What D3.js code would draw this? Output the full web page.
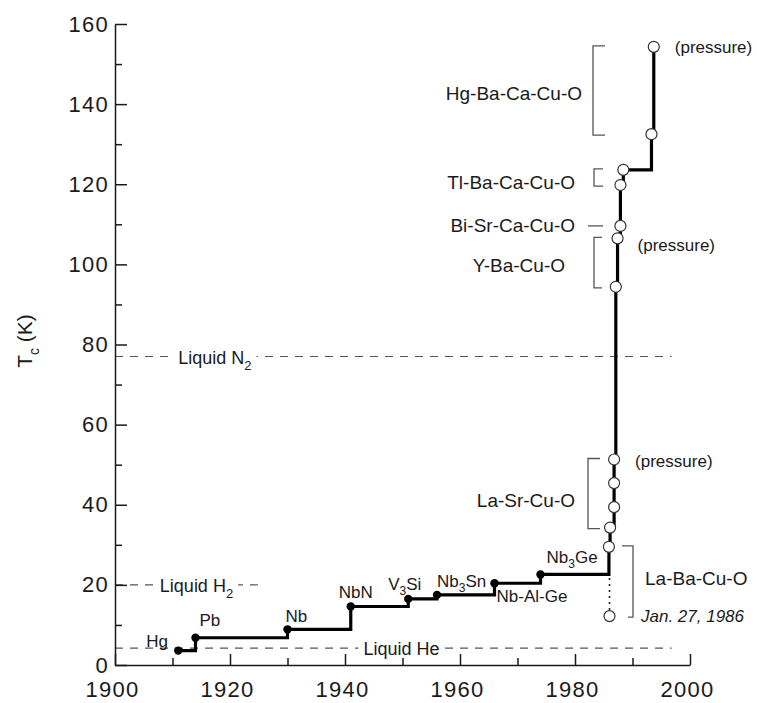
<!DOCTYPE html>
<html><head><meta charset="utf-8">
<script src="https://cdn.jsdelivr.net/npm/d3@7"></script>
<style>
body{margin:0;background:#fff}
text{font-family:"Liberation Sans",Arial,Helvetica,sans-serif;fill:#1a1a1a}
</style>
</head><body>
<svg id="c" width="757" height="703"></svg>
<script>
// ---------- data ----------
const xMajorTicks = [1900, 1920, 1940, 1960, 1980, 2000];
const xMinorTicks = [1910, 1930, 1950, 1970, 1990];
const yMajorTicks = [0, 20, 40, 60, 80, 100, 120, 140, 160];
const yMinorTicks = [10, 30, 50, 70, 90, 110, 130, 150];

// conventional superconductors (filled dots)
const convNames = ["Hg", "Pb", "Nb", "NbN", "V3Si", "Nb3Sn", "Nb-Al-Ge", "Nb3Ge"];
const convYears = [1911, 1914, 1930, 1941, 1951, 1956, 1966, 1974];
const convTc    = [3.6, 6.8, 8.9, 14.6, 16.5, 17.5, 20.4, 22.6];

// cuprates (open circles)
const cupFamily = ["La-Ba-Cu-O", "La-Ba-Cu-O",
  "La-Sr-Cu-O", "La-Sr-Cu-O", "La-Sr-Cu-O", "La-Sr-Cu-O",
  "Y-Ba-Cu-O", "Y-Ba-Cu-O", "Bi-Sr-Ca-Cu-O",
  "Tl-Ba-Ca-Cu-O", "Tl-Ba-Ca-Cu-O", "Hg-Ba-Ca-Cu-O", "Hg-Ba-Ca-Cu-O"];
const cupYears = [1986.0, 1985.9, 1986.1, 1986.8, 1986.8, 1986.8, 1987.1, 1987.4, 1987.9, 1987.9, 1988.4, 1993.3, 1993.7];
const cupTc    = [12.2, 29.5, 34.3, 39.4, 45.4, 51.3, 94.4, 106.5, 109.6, 119.8, 123.6, 132.5, 154.3];

// family labels
const familyNames   = ["Hg-Ba-Ca-Cu-O", "Tl-Ba-Ca-Cu-O", "Bi-Sr-Ca-Cu-O", "Y-Ba-Cu-O", "La-Sr-Cu-O", "La-Ba-Cu-O"];
const familyLabelTc = [142.7, 120.6, 109.8, 99.8, 41.2, 21.7];
const pressureTc    = [154.3, 106.5, 51.3];
const discoveryNote = "Jan. 27, 1986";

// reference liquids
const refNames  = ["Liquid N2", "Liquid H2", "Liquid He"];
const refTc     = [77, 20, 4.2];

// ---------- layout ----------
const svg = d3.select("#c");
const x = d3.scaleLinear().domain([1900, 2000]).range([115, 690]);
const y = d3.scaleLinear().domain([0, 160]).range([665, 24]);
const ink = "#1a1a1a";

// helper: text where digits become subscripts
function richText(sel, str, subSize, subDy) {
  const parts = str.split(/(\d)/).filter(s => s.length);
  let lowered = false;
  parts.forEach(p => {
    if (/^\d$/.test(p)) {
      sel.append("tspan").attr("font-size", subSize).attr("dy", subDy).text(p);
      lowered = true;
    } else {
      const ts = sel.append("tspan").text(p);
      if (lowered) { ts.attr("dy", -subDy); lowered = false; }
    }
  });
}

// ---------- reference dashed lines ----------
const refLayout = [
  {end: 1996.8, labelX: 1911.0},
  {end: 1926.0, labelX: 1907.8},
  {end: 1996.8, labelX: 1943.2}
];
const gRef = svg.append("g");
refNames.forEach((nm, i) => {
  const L = refLayout[i];
  gRef.append("line")
    .attr("x1", x(1900)).attr("x2", x(L.end))
    .attr("y1", y(refTc[i])).attr("y2", y(refTc[i]))
    .attr("stroke", "#555").attr("stroke-width", 1.1)
    .attr("stroke-dasharray", "8,7");
});
refNames.forEach((nm, i) => {
  const L = refLayout[i];
  const t = gRef.append("text")
    .attr("x", x(L.labelX)).attr("y", y(refTc[i]) + 7)
    .attr("font-size", 18);
  richText(t, nm, 13, 6);
  const bb = t.node().getBBox();
  gRef.insert("rect", () => t.node())
    .attr("x", bb.x - 5).attr("y", y(refTc[i]) - 3)
    .attr("width", bb.width + 10).attr("height", 6)
    .attr("fill", "#fff");
});

// ---------- axes ----------
const axStroke = 1.5;
const gy = svg.append("g").attr("transform", `translate(${x(1900)},0)`)
  .call(d3.axisLeft(y).tickValues(yMajorTicks).tickSizeInner(-12).tickSizeOuter(0).tickPadding(6));
const gyMinor = svg.append("g").attr("transform", `translate(${x(1900)},0)`)
  .call(d3.axisLeft(y).tickValues(yMinorTicks).tickSize(-7).tickFormat(""));
gyMinor.select(".domain").remove();

const gx = svg.append("g").attr("transform", `translate(0,${y(0)})`)
  .call(d3.axisBottom(x).tickValues(xMajorTicks).tickSizeInner(-11).tickSizeOuter(0).tickPadding(16).tickFormat(d3.format("d")));
const gxMinor = svg.append("g").attr("transform", `translate(0,${y(0)})`)
  .call(d3.axisBottom(x).tickValues(xMinorTicks).tickSize(-7).tickFormat(""));
gxMinor.select(".domain").remove();

[gy, gyMinor, gx, gxMinor].forEach(g => {
  g.selectAll("path,line").attr("stroke", ink).attr("stroke-width", axStroke);
  g.selectAll("text").attr("font-size", 22).attr("letter-spacing", 1.3)
    .attr("font-family", "'Liberation Sans',Arial,sans-serif").attr("fill", ink);
});
gx.selectAll("text").attr("dx", -3);

// y title
const yt = svg.append("text")
  .attr("transform", "translate(32,341) rotate(-90)")
  .attr("text-anchor", "middle").attr("font-size", 21);
yt.append("tspan").text("T");
yt.append("tspan").attr("font-size", 14).attr("dy", 7).text("c");
yt.append("tspan").attr("dy", -7).text(" (K)");

// ---------- step line ----------
const stepPts = convYears.map((yr, i) => [yr, convTc[i]])
  .concat(cupYears.slice(1).map((yr, i) => [yr, cupTc[i + 1]]));
const line = d3.line().x(d => x(d[0])).y(d => y(d[1])).curve(d3.curveStepAfter);
svg.append("path").attr("d", line(stepPts))
  .attr("fill", "none").attr("stroke", "#000").attr("stroke-width", 3.2)
  .attr("stroke-linejoin", "miter").attr("stroke-linecap", "butt");

// dotted connection to first La-Ba-Cu-O report
svg.append("line")
  .attr("x1", x(cupYears[0])).attr("x2", x(cupYears[0]))
  .attr("y1", y(cupTc[0])).attr("y2", y(convTc[convTc.length - 1]))
  .attr("stroke", "#222").attr("stroke-width", 1.6).attr("stroke-dasharray", "2,4");

// filled dots
svg.append("g").selectAll("circle").data(convYears).join("circle")
  .attr("cx", d => x(d)).attr("cy", (d, i) => y(convTc[i])).attr("r", 4.2).attr("fill", "#000");

// ---------- brackets ----------
const bracketLayout = {
  "Hg-Ba-Ca-Cu-O": {bx: 593, tick: 12, lx: 582},
  "Tl-Ba-Ca-Cu-O": {bx: 594, tick: 9, lx: 575},
  "Bi-Sr-Ca-Cu-O": {bx: 588, tick: 0, lx: 575, dash: 15},
  "Y-Ba-Cu-O":     {bx: 594, tick: 8, lx: 565},
  "La-Sr-Cu-O":    {bx: 588, tick: 12, lx: 575},
  "La-Ba-Cu-O":    {bx: 633, tick: -11, lx: 645}
};
const gB = svg.append("g");
familyNames.forEach((fam, i) => {
  const L = bracketLayout[fam];
  const vals = cupTc.filter((v, j) => cupFamily[j] === fam);
  const lo = d3.min(vals), hi = d3.max(vals);
  if (L.dash) {
    gB.append("line").attr("x1", L.bx).attr("x2", L.bx + L.dash)
      .attr("y1", y(lo)).attr("y2", y(lo))
      .attr("stroke", "#555").attr("stroke-width", 1.3);
  } else {
    const y1 = y(hi) - 1, y2 = y(lo) + 1;
    const tb = fam === "La-Ba-Cu-O" ? -5 : L.tick;
    gB.append("path")
      .attr("d", `M${L.bx + L.tick},${y1}H${L.bx}V${y2}H${L.bx + tb}`)
      .attr("fill", "none").attr("stroke", "#555").attr("stroke-width", 1.3);
  }
  gB.append("text")
    .attr("x", L.lx).attr("y", y(familyLabelTc[i]) + 7)
    .attr("font-size", 19)
    .attr("text-anchor", L.tick < 0 ? "start" : "end")
    .text(fam);
});
// discovery date
svg.append("text").attr("x", 641).attr("y", y(cupTc[0]) + 6)
  .attr("font-size", 17).attr("font-style", "italic").text(discoveryNote);

// open circles
svg.append("g").selectAll("circle").data(cupYears).join("circle")
  .attr("cx", d => x(d)).attr("cy", (d, i) => y(cupTc[i])).attr("r", 5.5)
  .attr("fill", "#fff").attr("stroke", "#333").attr("stroke-width", 1.2);

// (pressure) labels
const pressureLayout = [{dx: 21, dy: 6}, {dx: 20, dy: 13}, {dx: 21, dy: 8}];
pressureTc.forEach((v, i) => {
  const j = cupTc.indexOf(v);
  svg.append("text")
    .attr("x", x(cupYears[j]) + pressureLayout[i].dx)
    .attr("y", y(v) + pressureLayout[i].dy)
    .attr("font-size", 17).text("(pressure)");
});

// conventional labels
const convLabelLayout = [
  {dx: -32, dy: -4}, {dx: 4, dy: -12}, {dx: -2, dy: -7}, {dx: -12, dy: -9},
  {dx: -20, dy: -9}, {dx: 0, dy: -8}, {dx: 2, dy: 19}, {dx: 6, dy: -11}
];
convNames.forEach((nm, i) => {
  const t = svg.append("text")
    .attr("x", x(convYears[i]) + convLabelLayout[i].dx)
    .attr("y", y(convTc[i]) + convLabelLayout[i].dy)
    .attr("font-size", 17);
  richText(t, nm, 12, 5);
});
</script>
</body></html>
